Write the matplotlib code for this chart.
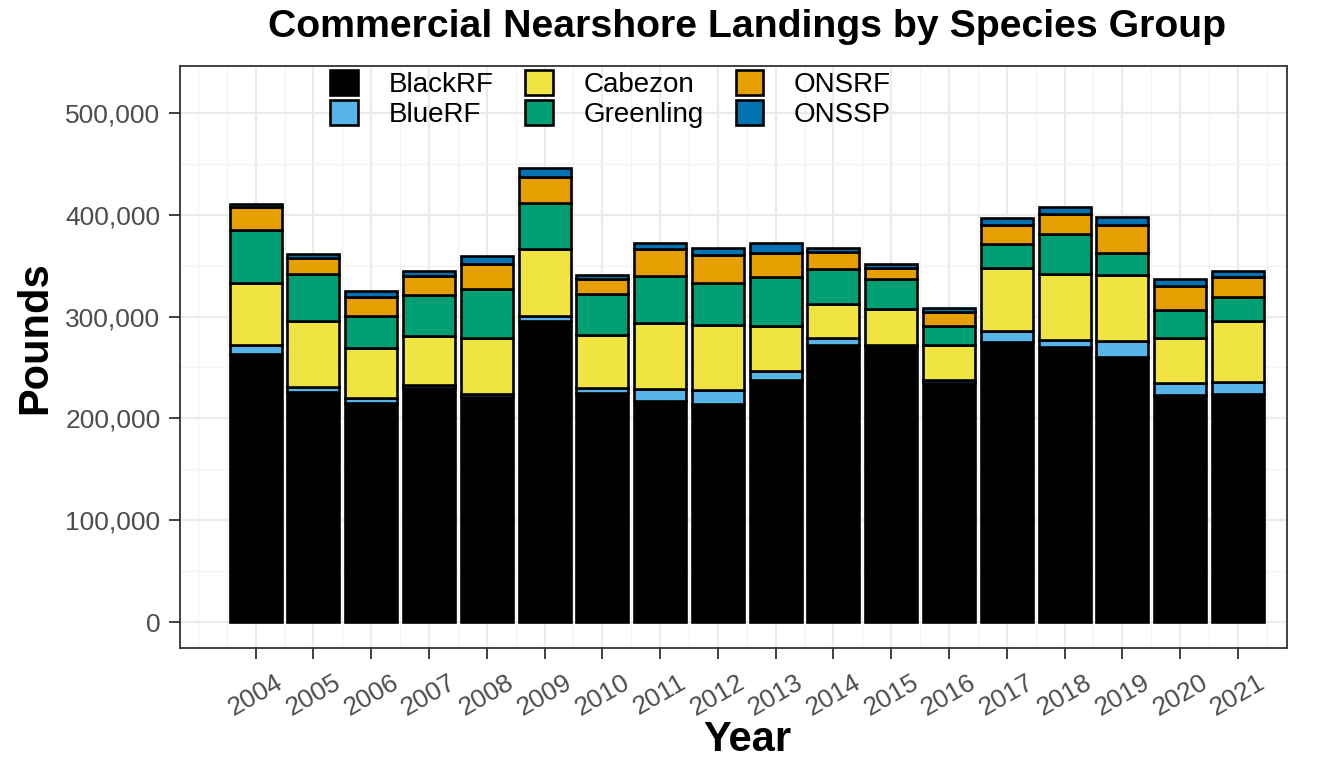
"""
plot.py

Stacked bar chart of commercial nearshore landings (pounds) by species group, 2004-2021.
"""
import matplotlib.pyplot as plt
import matplotlib.ticker as mticker
from matplotlib.patches import Patch
import numpy as np

plt.rcParams['font.family'] = ['Liberation Sans', 'DejaVu Sans']

years = list(range(2004, 2022))
species = ['BlackRF', 'BlueRF', 'Cabezon', 'Greenling', 'ONSRF', 'ONSSP']

black_rf = [263000, 225900, 214800, 229500, 220700, 296000, 224700, 217400, 214100,
            237700, 272100, 271000, 234500, 275400, 270100, 260000, 223300, 224000]
blue_rf = [9400, 5300, 5500, 3000, 3300, 4600, 5500, 11500, 13800,
           8900, 7200, 1000, 3500, 10200, 6900, 15700, 11200, 11500]
cabezon = [60600, 64200, 48900, 48800, 55000, 66100, 52000, 64800, 63800,
           44200, 33100, 35400, 34400, 62500, 64800, 65200, 44500, 60500]
greenling = [52100, 46400, 31400, 39900, 47800, 44600, 40300, 46200, 41600,
             48100, 34700, 29400, 18700, 22900, 39000, 21900, 27200, 23000]
onsrf = [22300, 15800, 18400, 18700, 25200, 25800, 14100, 26200, 26900,
         23600, 16100, 11100, 13400, 18700, 19700, 26900, 23900, 19600]
onssp = [3500, 3500, 6500, 4600, 7800, 8900, 3900, 5900, 7200,
         9500, 4200, 4000, 3700, 7200, 7200, 8500, 7100, 6500]

colors = ['#000000', '#56B4E9', '#F0E442', '#009E73', '#E69F00', '#0072B2']
series = [black_rf, blue_rf, cabezon, greenling, onsrf, onssp]

fig = plt.figure(figsize=(13.2, 7.6), dpi=100)
ax = fig.add_axes([180 / 1320, 112 / 760, 1107 / 1320, 582 / 760])

# stack the groups from the bottom up
bottom = np.zeros(len(years))
for name, values, color in zip(species, series, colors):
    ax.bar(years, values, bottom=bottom, width=0.9, color=color,
           edgecolor='black', linewidth=1.9, label=name, zorder=3)
    bottom += np.array(values)

ax.set_xlim(2002.69, 2021.85)
ax.set_ylim(-25500, 546000)

ax.set_xticks(years)
ax.set_xticks(np.arange(2003, 2022, 0.5), minor=True)
ax.set_yticks(np.arange(0, 500001, 100000))
ax.set_yticks(np.arange(50000, 550000, 100000), minor=True)
ax.yaxis.set_major_formatter(mticker.StrMethodFormatter('{x:,.0f}'))

ax.grid(which='major', color='#EBEBEB', linewidth=1.6, zorder=0)
ax.grid(which='minor', color='#F2F2F2', linewidth=0.9, zorder=0)
ax.tick_params(axis='both', which='major', length=8, width=1.3, color='#333333',
               labelsize=19, labelcolor='#4D4D4D', pad=6)
ax.tick_params(axis='x', which='major', pad=8)
ax.tick_params(axis='both', which='minor', length=0)
plt.setp(ax.get_xticklabels(), rotation=30, ha='center')

for spine in ax.spines.values():
    spine.set_color('#333333')
    spine.set_linewidth(1.3)

handles = [Patch(facecolor=c, edgecolor='black', linewidth=1.9) for c in colors]
fig.legend(handles, species, loc='upper left', bbox_to_anchor=(330 / 1320, 1 - 70 / 760),
           ncol=3, frameon=False, fontsize=20, handlelength=1.0, handleheight=1.0,
           handletextpad=1.1, columnspacing=1.15, labelspacing=0.08,
           borderpad=0, borderaxespad=0)

fig.text(747 / 1320, 1 - 27 / 760, 'Commercial Nearshore Landings by Species Group',
         ha='center', va='center', fontsize=28.3, fontweight='bold')
fig.text(747 / 1320, 1 - 740 / 760, 'Year', ha='center', va='center',
         fontsize=30, fontweight='bold')
fig.text(35 / 1320, 1 - 338 / 760, 'Pounds', ha='center', va='center',
         fontsize=30, fontweight='bold', rotation=90)

fig.savefig('out.png', dpi=100)
